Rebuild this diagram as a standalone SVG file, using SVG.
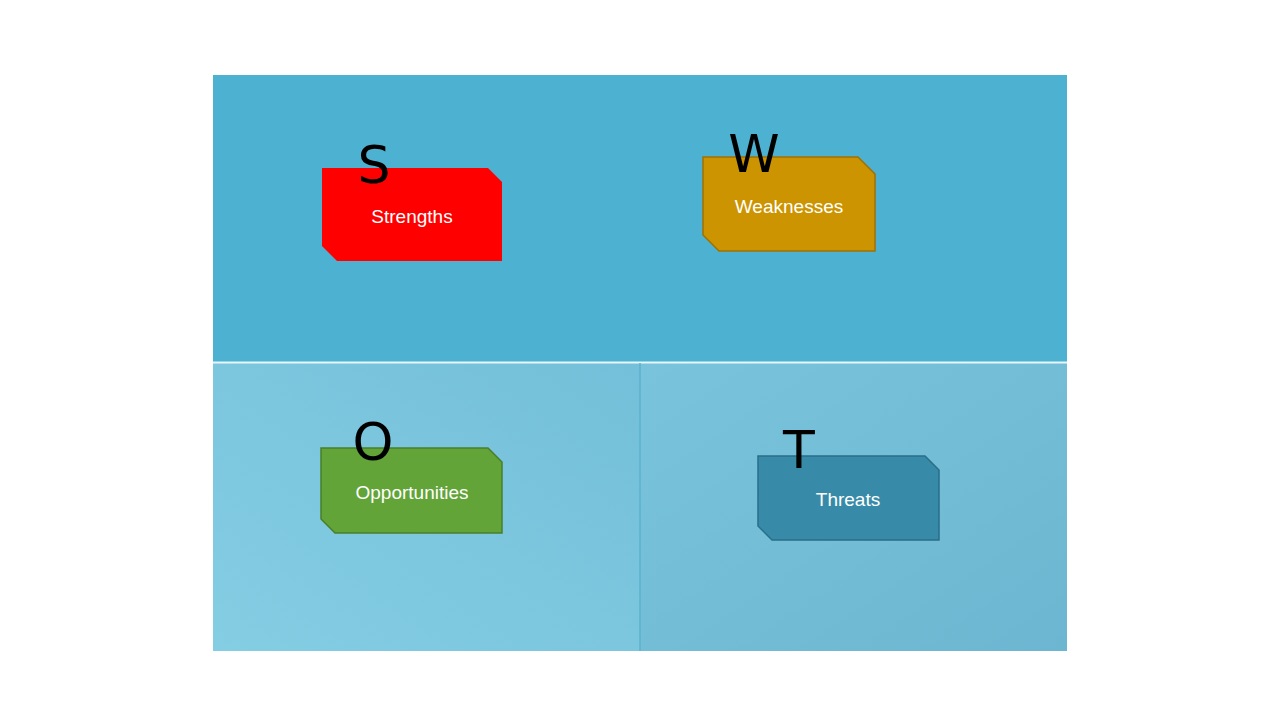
<svg xmlns="http://www.w3.org/2000/svg" width="1280" height="720" viewBox="0 0 1280 720">
<style>
.lbl{font-family:"Liberation Sans",Arial,sans-serif;font-size:19px;fill:#fff;text-anchor:middle}
.let{font-family:"DejaVu Sans",sans-serif;font-size:52px;fill:#000;text-anchor:middle}
</style>
<defs>
<linearGradient id="g" x1="0" y1="1" x2="1" y2="0" gradientUnits="objectBoundingBox">
<stop offset="0" stop-color="#84cde3"/><stop offset="1" stop-color="#74bfd9"/></linearGradient>
<linearGradient id="g2" x1="0" y1="0" x2="1" y2="1">
<stop offset="0" stop-color="#79c4dc"/><stop offset="1" stop-color="#6db6d1"/></linearGradient>
</defs>
<rect width="1280" height="720" fill="#fff"/>
<rect x="213" y="75" width="854" height="287" fill="#4db1d1"/>
<rect x="213" y="363" width="427" height="288" fill="url(#g)"/>
<rect x="640" y="363" width="427" height="288" fill="url(#g2)"/>
<line x1="213" y1="362.5" x2="1067" y2="362.5" stroke="#e8f6fb" stroke-width="2"/>
<line x1="640" y1="363" x2="640" y2="651" stroke="#5ab3cf" stroke-width="1.5"/>
<g id="strengths">
<path d="M322 168H488L502 182V261H337L322 246Z" fill="#ff0000"/>
<text class="let" x="374" y="183">S</text>
<text class="lbl" x="412" y="223">Strengths</text>
</g>
<g id="weaknesses">
<path d="M703 157H858L875 174V251H719L703 235Z" fill="#cc9400" stroke="#a07000" stroke-width="1.5"/>
<text class="let" x="754" y="172">W</text>
<text class="lbl" x="789" y="213">Weaknesses</text>
</g>
<g id="opportunities">
<path d="M321 448H488L502 462V533H335L321 519Z" fill="#62a437" stroke="#4a7f2a" stroke-width="1.5"/>
<text class="let" x="373" y="460">O</text>
<text class="lbl" x="412" y="499">Opportunities</text>
</g>
<g id="threats">
<path d="M758 456H925L939 470V540H772L758 526Z" fill="#378ba8" stroke="#2a6e87" stroke-width="1.5"/>
<text class="let" x="799" y="468">T</text>
<text class="lbl" x="848" y="506">Threats</text>
</g>
<g id="connectors"/>
</svg>
